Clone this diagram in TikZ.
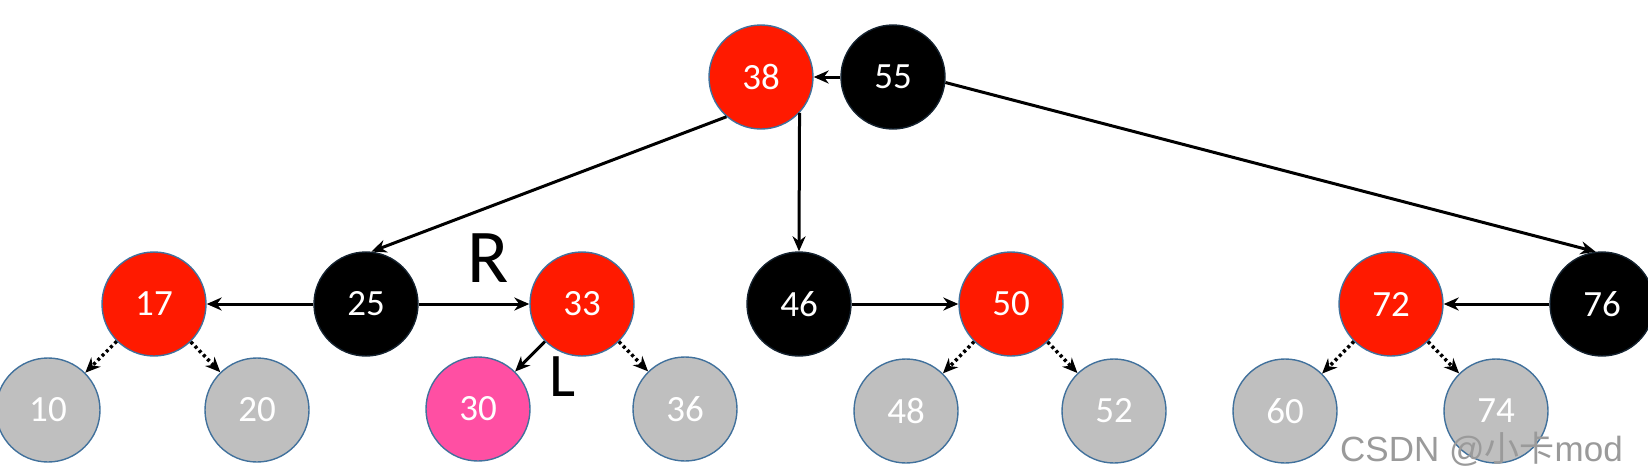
\documentclass[tikz,border=0pt]{standalone}
\usepackage{fontspec}
\setmainfont{Carlito}
\newfontfamily\wmfont{Liberation Sans}
\newfontfamily\cjkwm{Noto Sans CJK SC}
\usetikzlibrary{arrows.meta}
\definecolor{rbred}{HTML}{FF1A00}
\definecolor{rbpink}{HTML}{FF4FA3}
\definecolor{rbgray}{HTML}{BFBFBF}
\definecolor{rbedge}{HTML}{41719C}
\definecolor{wmgray}{HTML}{9A9A9A}
\tikzset{
  rbnode/.style={circle, minimum size=104pt, inner sep=0pt, draw=rbedge, line width=1.4pt,
    text=white, font=\fontsize{37}{37}\selectfont},
  rednode/.style={rbnode, fill=rbred},
  blacknode/.style={rbnode, fill=black, draw=black!70!rbedge},
  graynode/.style={rbnode, fill=rbgray},
  pinknode/.style={rbnode, fill=rbpink},
  solidarrow/.style={-{Stealth[length=15pt,width=13pt]}, line width=3pt},
  dotarrow/.style={-{Stealth[length=15pt,width=13pt]}, line width=3.5pt, dash pattern=on 3pt off 3pt},
  hand/.style={inner sep=0pt, text=black}
}
\begin{document}
\begin{tikzpicture}[x=1pt,y=-1pt]
\useasboundingbox (0,0) rectangle (1648,466);
% top row
\node[rednode]   (n38) at (761,77)  {38};
\node[blacknode] (n55) at (893,77)  {55};
% middle row
\node[rednode]   (n17) at (154,304) {17};
\node[blacknode] (n25) at (366,304) {25};
\node[rednode]   (n33) at (582,304) {33};
\node[blacknode] (n46) at (799,304) {46};
\node[rednode]   (n50) at (1011,304) {50};
\node[rednode]   (n72) at (1391,304) {72};
\node[blacknode] (n76) at (1602,304) {76};
% bottom row
\node[graynode]  (n10) at (48,410)  {10};
\node[graynode]  (n20) at (257,410) {20};
\node[pinknode]  (n30) at (478,409) {30};
\node[graynode]  (n36) at (685,409) {36};
\node[graynode]  (n48) at (906,411) {48};
\node[graynode]  (n52) at (1114,411) {52};
\node[graynode]  (n60) at (1285,411) {60};
\node[graynode]  (n74) at (1496,411) {74};
% solid arrows
\draw[solidarrow] (n55) -- (n38);
\draw[solidarrow] (n38.-131) -- (n25.84);
\draw[solidarrow] (n38.-43) -- (n46.north);
\draw[solidarrow] (n55.-6) -- (n76.97);
\draw[solidarrow] (n25) -- (n17);
\draw[solidarrow] (n25) -- (n33);
\draw[solidarrow] (n33) -- (n30);
\draw[solidarrow] (n46) -- (n50);
\draw[solidarrow] (n76) -- (n72);
% dotted arrows
\draw[dotarrow] (n17) -- (n10);
\draw[dotarrow] (n17) -- (n20);
\draw[dotarrow] (n33) -- (n36);
\draw[dotarrow] (n50) -- (n48);
\draw[dotarrow] (n50) -- (n52);
\draw[dotarrow] (n72) -- (n60);
\draw[dotarrow] (n72) -- (n74);
% handwritten labels
\node[hand, font=\fontsize{76}{76}\selectfont] (lR) at (488,258) {R};
\node[hand, font=\fontsize{62}{62}\selectfont] (lL) at (563,377) {L};
% watermark
\node[anchor=base west, inner sep=0pt, text=wmgray, font=\wmfont\fontsize{35}{35}\selectfont] (wm) at (1340,461) {CSDN @{\cjkwm 小卡}mod};
\end{tikzpicture}
\end{document}
